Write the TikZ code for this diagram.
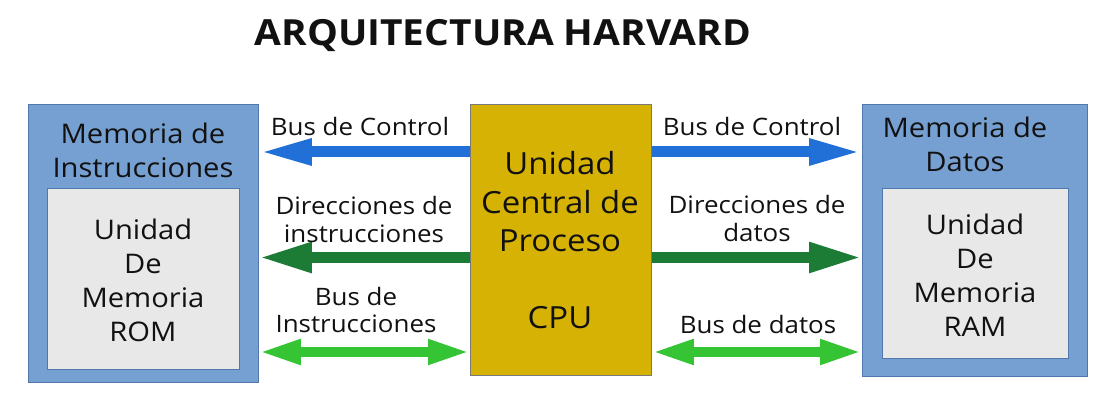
\documentclass[tikz,border=0pt]{standalone}
\usepackage{fontspec}
\setmainfont{Open Sans}[FakeStretch=1.08]
\usetikzlibrary{arrows.meta}
\definecolor{memblue}{RGB}{118,160,210}
\definecolor{memborder}{RGB}{80,120,175}
\definecolor{innergrey}{RGB}{232,232,232}
\definecolor{cpugold}{RGB}{214,178,4}
\definecolor{cpuborder}{RGB}{120,120,120}
\definecolor{ctrlblue}{RGB}{32,112,216}
\definecolor{dirgreen}{RGB}{28,124,54}
\definecolor{busgreen}{RGB}{52,196,52}
\definecolor{txt}{RGB}{17,17,17}
\tikzset{
  outerbox/.style={draw=memborder, fill=memblue, line width=0.8pt, anchor=north west, inner sep=0pt},
  innerbox/.style={draw=memborder, fill=innergrey, line width=0.8pt, anchor=north west, inner sep=0pt},
  cpubox/.style={draw=cpuborder, fill=cpugold, line width=0.8pt, anchor=north west, inner sep=0pt},
  memtext/.style={text=txt, align=center, font=\fontsize{27}{34}\selectfont},
  lbl/.style={text=txt, align=center, font=\fontsize{24}{27.5}\selectfont},
  cputext/.style={text=txt, align=center, font=\fontsize{30.5}{38.5}\selectfont},
  title/.style={text=txt, font=\fontsize{36}{40}\selectfont\bfseries},
  ctrlarrow/.style={draw=ctrlblue, line width=11pt, -{Triangle[width=24pt,length=53pt]}},
  dirarrow/.style={draw=dirgreen, line width=11pt, -{Triangle[width=28pt,length=53pt]}},
  busarrow/.style={draw=busgreen, line width=10pt, {Triangle[width=23pt,length=42pt]}-{Triangle[width=23pt,length=42pt]}},
}
\begin{document}
\begin{tikzpicture}[x=1pt,y=-1pt]
\useasboundingbox (0,0) rectangle (1116,411);
\fill[white] (0,0) rectangle (1116,411);

\node[title] (tit) at (503,36) {ARQUITECTURA HARVARD};

% boxes
\node[outerbox, minimum width=230pt, minimum height=278pt] (lmem) at (28,104) {};
\node[innerbox, minimum width=192pt, minimum height=181pt] (lin) at (47,188) {};
\node[cpubox, minimum width=181pt, minimum height=271pt] (cpu) at (470,104) {};
\node[outerbox, minimum width=225pt, minimum height=272pt] (rmem) at (862,104) {};
\node[innerbox, minimum width=186pt, minimum height=170pt] (rin) at (882,188) {};

% box texts
\node[memtext] (lmemt) at (143,150.5) {Memoria de\\Instrucciones};
\node[memtext] (lint) at (143,280) {Unidad\\De\\Memoria\\ROM};
\node[cputext] (cput) at (560,202) {Unidad\\Central de\\Proceso};
\node[cputext] (cpul) at (560,318) {CPU};
\node[memtext] (rmemt) at (965,144.5) {Memoria de\\Datos};
\node[memtext] (rint) at (975,275.5) {Unidad\\De\\Memoria\\RAM};

% levels
\coordinate (yc) at (0,152);
\coordinate (yd) at (0,257.5);
\coordinate (yb) at (0,352);

% arrows
\draw[ctrlarrow] (cpu.west |- yc) -- (lmem.east |- yc);
\draw[ctrlarrow] (cpu.east |- yc) -- (rmem.west |- yc);
\draw[dirarrow] (cpu.west |- yd) -- (lmem.east |- yd);
\draw[dirarrow] (cpu.east |- yd) -- (rmem.west |- yd);
\draw[busarrow] (lmem.east |- yb) -- (cpu.west |- yb);
\draw[busarrow] (cpu.east |- yb) -- (rmem.west |- yb);

% labels
\node[lbl] (l1) at (360,127) {Bus de Control};
\node[lbl] (l2) at (364,219.5) {Direcciones de\\instrucciones};
\node[lbl] (l3) at (356,310) {Bus de\\Instrucciones};
\node[lbl] (r1) at (752,127) {Bus de Control};
\node[lbl] (r2) at (757,218.5) {Direcciones de\\datos};
\node[lbl] (r3) at (758,325) {Bus de datos};
\end{tikzpicture}
\end{document}
